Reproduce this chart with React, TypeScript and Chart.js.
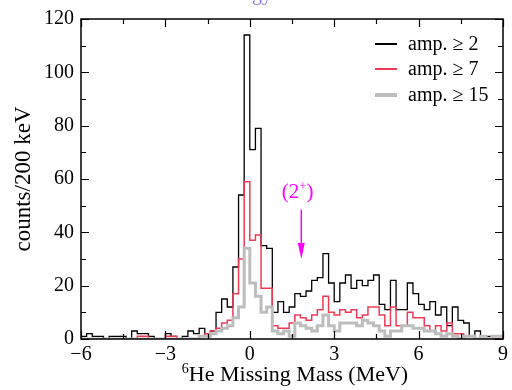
import React, { useEffect, useRef } from 'react';
import { Chart, registerables } from 'chart.js';

Chart.register(...registerables);

// Histogram definition: 200 keV bins from -6 MeV
const BIN_START = -6;
const BIN_WIDTH = 0.2;

// counts per 200 keV bin, bins starting at -6.0, -5.8, ... 8.8 MeV
const countsAmp2 = [
  1, 2, 1, 1, 0, 1, 1, 1, 0, 3,
  2, 2, 1, 0, 0, 2, 1, 0, 1, 3,
  2, 4, 2, 3, 10, 15, 12, 27, 54, 114,
  71, 79, 35, 34, 10, 14, 10, 12, 17, 16,
  18, 22, 23, 32, 21, 14, 21, 24, 19, 22,
  20, 22, 24, 13, 11, 22, 11, 11, 21, 17,
  13, 11, 14, 9, 12, 5, 12, 7, 6, 1,
  3, 1, 1, 0, 0,
];
const countsAmp7 = [
  0, 0, 0, 0, 0, 0, 0, 0, 0, 0,
  1, 1, 0, 0, 0, 1, 1, 0, 0, 0,
  0, 1, 2, 3, 4, 6, 7, 17, 30, 59,
  37, 39, 19, 19, 5, 4, 4, 6, 9, 8,
  7, 9, 11, 16, 10, 9, 11, 10, 11, 8,
  9, 12, 12, 9, 5, 12, 5, 5, 10, 8,
  8, 5, 3, 5, 3, 6, 2, 2, 1, 1,
  0, 0, 0, 0, 0,
];
const countsAmp15 = [
  0, 0, 0, 0, 0, 0, 0, 0, 0, 0,
  0, 0, 0, 0, 0, 0, 0, 0, 0, 0,
  0, 1, 1, 2, 3, 4, 5, 8, 12, 34,
  21, 16, 10, 12, 3, 2, 3, 1, 6, 5,
  4, 3, 5, 9, 5, 3, 6, 6, 6, 5,
  7, 6, 5, 3, 1, 3, 3, 5, 5, 4,
  4, 3, 3, 2, 1, 2, 1, 0, 1, 1,
  0, 1, 0, 1, 1,
];

const seriesLabels = ['amp. \u2265 2', 'amp. \u2265 7', 'amp. \u2265 15'];
const seriesColors = ['#000000', '#ec3c55', '#bdbdbd'];
const seriesWidths = [1.3, 1.5, 3];

const xTickValues = [-6, -3, 0, 3, 6, 9];
const xMinorTicks = [-4.5, -1.5, 1.5, 4.5, 7.5];
const yTickValues = [0, 20, 40, 60, 80, 100, 120];
const yMinorTicks = [10, 30, 50, 70, 90, 110];

// (2+) state marker
const markerLabelX = 1.7;
const markerLabelY = 55;
const arrowX = 1.83;
const arrowTop = 48.5;
const arrowTip = 30;

const SERIF = "'Liberation Serif', 'Times New Roman', serif";

function toSteps(counts: number[]) {
  const pts = counts.map((c, i) => ({ x: BIN_START + i * BIN_WIDTH, y: c }));
  pts.push({ x: BIN_START + counts.length * BIN_WIDTH, y: counts[counts.length - 1] });
  return pts;
}

function fmt(v: number) {
  return v < 0 ? '\u2212' + Math.abs(v) : String(v);
}

const overlay = {
  id: 'overlay',
  afterDraw(chart: any) {
    const { ctx, chartArea: a, scales } = chart;
    const x = scales.x;
    const y = scales.y;
    ctx.save();

    // clipped title at the very top
    ctx.fillStyle = '#8080f0';
    ctx.font = `20px ${SERIF}`;
    ctx.textAlign = 'right';
    ctx.textBaseline = 'alphabetic';
    ctx.fillText('Energy', 272, 0);

    // frame
    ctx.strokeStyle = '#000';
    ctx.lineWidth = 1.5;
    ctx.strokeRect(a.left, a.top, a.right - a.left, a.bottom - a.top);

    // inward ticks
    ctx.lineWidth = 1.2;
    ctx.beginPath();
    const xt = (vals: number[], len: number) => {
      vals.forEach((v) => {
        const px = Math.round(x.getPixelForValue(v)) + 0.5;
        ctx.moveTo(px, a.bottom);
        ctx.lineTo(px, a.bottom - len);
        ctx.moveTo(px, a.top);
        ctx.lineTo(px, a.top + len);
      });
    };
    const yt = (vals: number[], len: number) => {
      vals.forEach((v) => {
        const py = Math.round(y.getPixelForValue(v)) + 0.5;
        ctx.moveTo(a.left, py);
        ctx.lineTo(a.left + len, py);
        ctx.moveTo(a.right, py);
        ctx.lineTo(a.right - len, py);
      });
    };
    xt(xTickValues, 8);
    xt(xMinorTicks, 5);
    yt(yTickValues, 8);
    yt(yMinorTicks, 5);
    ctx.stroke();

    // legend
    const lx0 = 375, lx1 = 397, tx = 408;
    const rows = [44, 69, 95];
    ctx.font = `20px ${SERIF}`;
    ctx.textAlign = 'left';
    ctx.textBaseline = 'middle';
    seriesLabels.forEach((lab, i) => {
      ctx.strokeStyle = seriesColors[i];
      ctx.lineWidth = i === 2 ? 4 : 2;
      ctx.beginPath();
      ctx.moveTo(lx0, rows[i]);
      ctx.lineTo(lx1, rows[i]);
      ctx.stroke();
      ctx.fillStyle = '#000';
      ctx.fillText(lab, tx, rows[i] + 1);
    });

    // (2+) marker
    ctx.fillStyle = '#ff00ff';
    ctx.strokeStyle = '#ff00ff';
    const mx = x.getPixelForValue(markerLabelX);
    const my = y.getPixelForValue(markerLabelY);
    ctx.textBaseline = 'alphabetic';
    ctx.font = `21px ${SERIF}`;
    const w1 = ctx.measureText('(2').width;
    ctx.font = `13px ${SERIF}`;
    const w2 = ctx.measureText('+').width;
    ctx.font = `21px ${SERIF}`;
    const w3 = ctx.measureText(')').width;
    const sx = mx - (w1 + w2 + w3) / 2;
    ctx.textAlign = 'left';
    ctx.fillText('(2', sx, my + 6);
    ctx.font = `13px ${SERIF}`;
    ctx.fillText('+', sx + w1, my - 2);
    ctx.font = `21px ${SERIF}`;
    ctx.fillText(')', sx + w1 + w2, my + 6);

    const ax = x.getPixelForValue(arrowX);
    const ay0 = y.getPixelForValue(arrowTop);
    const ay1 = y.getPixelForValue(arrowTip);
    ctx.lineWidth = 1.5;
    ctx.beginPath();
    ctx.moveTo(ax, ay0);
    ctx.lineTo(ax, ay1 - 10);
    ctx.stroke();
    ctx.beginPath();
    ctx.moveTo(ax - 3.5, ay1 - 16);
    ctx.lineTo(ax + 3.5, ay1 - 16);
    ctx.lineTo(ax, ay1);
    ctx.closePath();
    ctx.fill();

    // axis titles
    ctx.fillStyle = '#000';
    ctx.font = `22px ${SERIF}`;
    const main = 'He Missing Mass (MeV)';
    const wm = ctx.measureText(main).width;
    ctx.font = `14px ${SERIF}`;
    const ws = ctx.measureText('6').width;
    const cx = 295;
    const bx = cx - (wm + ws) / 2;
    ctx.textAlign = 'left';
    ctx.textBaseline = 'alphabetic';
    ctx.fillText('6', bx, 373);
    ctx.font = `22px ${SERIF}`;
    ctx.fillText(main, bx + ws, 381);

    ctx.save();
    ctx.translate(24, (a.top + a.bottom) / 2);
    ctx.rotate(-Math.PI / 2);
    ctx.textAlign = 'center';
    ctx.textBaseline = 'middle';
    ctx.font = `23px ${SERIF}`;
    ctx.fillText('counts/200 keV', 0, 0);
    ctx.restore();

    ctx.restore();
  },
};

export default function App() {
  const ref = useRef<HTMLCanvasElement | null>(null);
  useEffect(() => {
    if (!ref.current) return;
    const font = { family: SERIF, size: 20 };
    const all = [countsAmp2, countsAmp7, countsAmp15];
    const chart = new Chart(ref.current, {
      type: 'line',
      data: {
        datasets: all.map((c, i) => ({
          label: seriesLabels[i],
          data: toSteps(c),
          borderColor: seriesColors[i],
          borderWidth: seriesWidths[i],
          stepped: 'before' as const,
          pointRadius: 0,
          fill: false,
          order: 2 - i,
        })),
      },
      options: {
        animation: false,
        responsive: false,
        maintainAspectRatio: false,
        events: [],
        layout: { padding: { top: 15, right: 8, left: 0, bottom: 0 } },
        plugins: { legend: { display: false }, tooltip: { enabled: false }, title: { display: false } },
        scales: {
          x: {
            type: 'linear',
            min: -6,
            max: 9,
            grid: { display: false, drawTicks: false },
            border: { display: false },
            afterFit: (s: any) => { s.height = 51; },
            afterBuildTicks: (s: any) => { s.ticks = xTickValues.map((v) => ({ value: v })); },
            ticks: { color: '#000', font, padding: 4, autoSkip: false, maxRotation: 0, callback: (v: any) => fmt(Number(v)) },
          },
          y: {
            type: 'linear',
            min: 0,
            max: 120,
            grid: { display: false, drawTicks: false },
            border: { display: false },
            afterFit: (s: any) => { s.width = 81; },
            afterBuildTicks: (s: any) => { s.ticks = yTickValues.map((v) => ({ value: v })); },
            ticks: { color: '#000', font, padding: 7, autoSkip: false, callback: (v: any) => fmt(Number(v)) },
          },
        },
      },
      plugins: [overlay],
    });
    return () => chart.destroy();
  }, []);
  return (
    <div style={{ position: 'fixed', left: 0, top: 0, width: 512, height: 390, background: '#fff' }}>
      <canvas ref={ref} width={512} height={390} style={{ width: 512, height: 390, display: 'block' }} />
    </div>
  );
}
